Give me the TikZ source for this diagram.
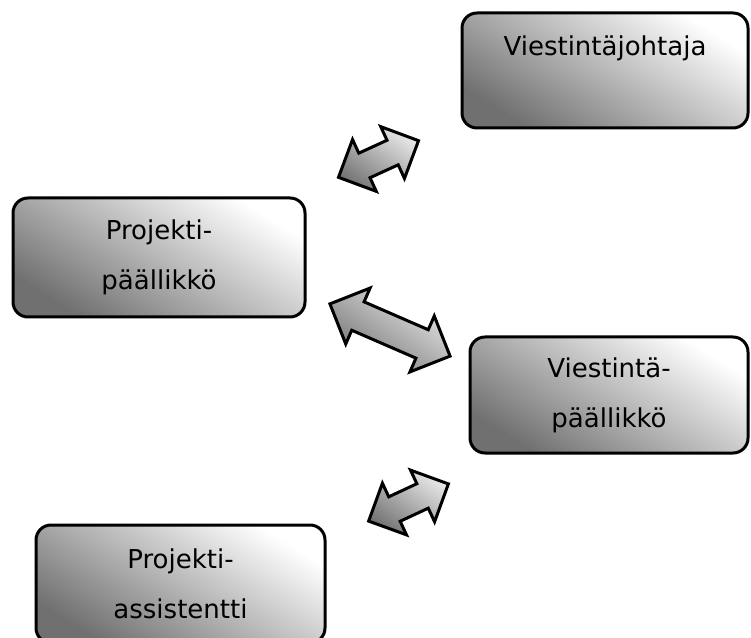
\documentclass[tikz,border=0pt]{standalone}
\usepackage{fontspec}
\setmainfont{DejaVu Sans}
\usetikzlibrary{shapes.arrows}
\definecolor{varjo}{RGB}{112,112,112}
\definecolor{keski}{RGB}{222,222,222}
\definecolor{nuoli}{RGB}{115,115,115}
\definecolor{vaalea}{RGB}{232,232,232}

\tikzset{
  laatikko/.style={draw, line width=3pt, rounded corners=15pt,
    top color=white, middle color=keski, bottom color=varjo, shading angle=-32,
    align=center, font=\fontsize{26}{50}\selectfont, inner sep=0pt},
  kaksoisnuoli/.style={double arrow, draw, line width=3pt,
    top color=vaalea, bottom color=nuoli, shading angle=-35,
    inner xsep=0pt}
}

\begin{document}
\begin{tikzpicture}[x=1pt,y=1pt]
\useasboundingbox (0,0) rectangle (751,637);
\node [laatikko, minimum width=286pt, minimum height=115pt] (johtaja) at (605,566.5) {Viestintäjohtaja\\ \mbox{}};
\node [laatikko, minimum width=292pt, minimum height=119pt] (projpaal) at (159,379.5) {Projekti-\\päällikkö};
\node [laatikko, minimum width=278pt, minimum height=116pt] (viestpaal) at (609,242) {Viestintä-\\päällikkö};
\node [laatikko, minimum width=289pt, minimum height=118pt] (assist) at (180.5,53) {Projekti-\\assistentti};

\node [kaksoisnuoli, minimum height=88pt, inner ysep=12pt, double arrow head extend=15pt, rotate=24.6] (nuoli1) at (378.5,478) {};
\node [kaksoisnuoli, minimum height=131pt, inner ysep=14pt, double arrow head extend=15pt, rotate=-23.5] (nuoli2) at (390,307) {};
\node [kaksoisnuoli, minimum height=88pt, inner ysep=12pt, double arrow head extend=15pt, rotate=25] (nuoli3) at (408.5,134.5) {};

\end{tikzpicture}
\end{document}
